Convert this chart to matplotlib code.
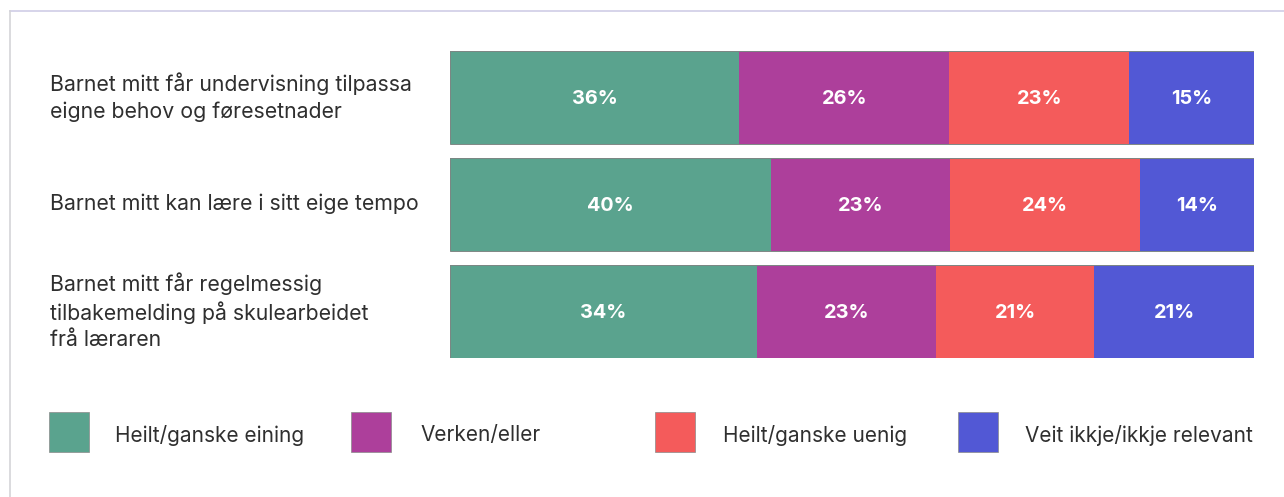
import matplotlib
matplotlib.use("Agg")
import matplotlib.pyplot as plt
from matplotlib.lines import Line2D
from matplotlib.patches import Rectangle
from matplotlib.transforms import blended_transform_factory

plt.rcParams["font.family"] = ["Inter", "DejaVu Sans"]

# --- data ---
questions = [
    "Barnet mitt får undervisning tilpassa\neigne behov og føresetnader",
    "Barnet mitt kan lære i sitt eige tempo",
    "Barnet mitt får regelmessig\ntilbakemelding på skulearbeidet\nfrå læraren",
]
categories = ["Heilt/ganske eining", "Verken/eller", "Heilt/ganske uenig",
              "Veit ikkje/ikkje relevant"]
# printed percentages
agree_lbl = [36, 40, 34]
neither_lbl = [26, 23, 23]
disagree_lbl = [23, 24, 21]
dunno_lbl = [15, 14, 21]
# segment lengths as drawn (share of bar, %)
agree = [36.0, 39.9, 38.2]
neither = [26.1, 22.3, 22.3]
disagree = [22.4, 23.6, 19.6]
dunno = [15.5, 14.2, 19.9]

colors = ["#5aa38e", "#ad3f9b", "#f45b5b", "#5258d5"]

W, H = 1284, 497
fig = plt.figure(figsize=(W / 100, H / 100), dpi=100)
fig.patch.set_facecolor("white")
ax = fig.add_axes([450 / W, 1 - 357.7 / H, 804 / W, 307 / H])

y = list(range(len(questions)))
series = [agree, neither, disagree, dunno]
labels = [agree_lbl, neither_lbl, disagree_lbl, dunno_lbl]
left = [0.0] * len(y)
for vals, lbls, c in zip(series, labels, colors):
    ax.barh(y, vals, left=left, height=0.87, color=c, edgecolor="none", zorder=2)
    for yi, l, v, lb in zip(y, left, vals, lbls):
        ax.text(l + v / 2, yi, f"{lb}%", ha="center", va="center_baseline",
                color="white", fontsize=14.3, fontweight="bold", zorder=3)
    left = [a + b for a, b in zip(left, vals)]
# thin outline round each bar
ax.barh(y, left, height=0.87, fill=False, edgecolor="#7d8784", lw=0.7, zorder=4)

ax.set_xlim(0, max(left))
ax.set_ylim(2.435, -0.435)
ax.axis("off")

# question labels on the left
lab_tr = blended_transform_factory(fig.transFigure, ax.transData)
for yi, q in zip(y, questions):
    ax.text(50 / W, yi, q, transform=lab_tr, ha="left", va="center",
            fontsize=15.3, color="#2f2f2f", linespacing=1.35)

# legend as an even grid
sq_x = [49, 351, 655, 958]
txt_x = [115, 420, 723, 1025]
for c, name, sx, tx in zip(colors, categories, sq_x, txt_x):
    fig.add_artist(Rectangle((sx / W, 1 - 452 / H), 40 / W, 40 / H,
                             transform=fig.transFigure, facecolor=c,
                             edgecolor="#8a8a8a", lw=0.5))
    fig.text(tx / W, 1 - 433 / H, name, ha="left", va="center_baseline",
             fontsize=15.0, color="#2f2f2f")

# card frame
fig.add_artist(Line2D([10 / W, 1], [1 - 11 / H, 1 - 11 / H],
                      transform=fig.transFigure, color="#cfcde6", lw=1.2))
fig.add_artist(Line2D([10 / W, 10 / W], [0, 1 - 11 / H],
                      transform=fig.transFigure, color="#d4d4d8", lw=1.2))

fig.savefig("out.png", dpi=100, facecolor="white")
